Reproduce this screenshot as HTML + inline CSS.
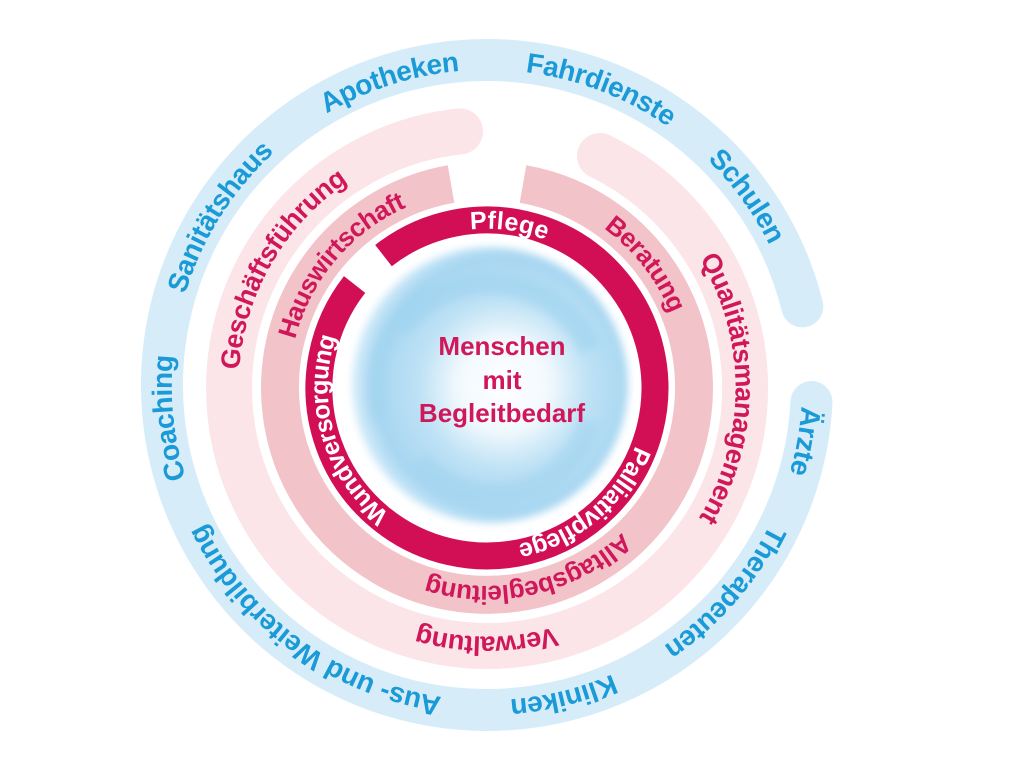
<!DOCTYPE html>
<html><head><meta charset="utf-8"><style>
html,body{margin:0;padding:0;background:#fff;}
svg{display:block;}
text{font-family:"Liberation Sans",sans-serif;font-weight:bold;}
</style></head><body>
<svg width="1024" height="769" viewBox="0 0 1024 769" xmlns="http://www.w3.org/2000/svg">
<defs>
<radialGradient id="sw" cx="0.55" cy="0.5" r="0.55">
<stop offset="0" stop-color="#ffffff"/>
<stop offset="0.3" stop-color="#f2f9fd"/>
<stop offset="0.55" stop-color="#bfe2f5"/>
<stop offset="0.85" stop-color="#a6d6f1"/>
<stop offset="1" stop-color="#d8eefa"/>
</radialGradient>
<filter id="bl"><feGaussianBlur stdDeviation="4"/></filter>
<path id="pb" d="M487,710 A325,325 0 1 1 487,60 A325,325 0 1 1 487,710 A325,325 0 1 1 487,60 A325,325 0 1 1 487,710"/>
<path id="p3" d="M487,646 A258,258 0 1 1 487,130 A258,258 0 1 1 487,646 A258,258 0 1 1 487,130 A258,258 0 1 1 487,646"/>
<path id="p2" d="M487,595 A207,207 0 1 1 487,181 A207,207 0 1 1 487,595 A207,207 0 1 1 487,181 A207,207 0 1 1 487,595"/>
<path id="p1" d="M487,556 A168,168 0 1 1 487,220 A168,168 0 1 1 487,556 A168,168 0 1 1 487,220 A168,168 0 1 1 487,556"/>
</defs>

<path d="M811.5,402 A325,325 0 1 1 802.3,306.4" fill="none" stroke="#d6ecf9" stroke-width="42" stroke-linecap="round"/>
<path d="M600,156 A258,258 0 1 1 460,131.4" fill="none" stroke="#fbe5e8" stroke-width="46" stroke-linecap="round"/>
<path d="M523,184 A207,207 0 1 1 451,184" fill="none" stroke="#f2c3c9" stroke-width="38"/>
<path d="M383.5,255.6 A168,168 0 1 1 354.6,284.5" fill="none" stroke="#d20f55" stroke-width="27"/>

<g filter="url(#bl)">
<circle cx="490" cy="385" r="138" fill="url(#sw)"/>
<path d="M400,330 A110,110 0 0 1 590,350" fill="none" stroke="#9fd3f0" stroke-width="22" opacity="0.6"/>
<path d="M590,420 A100,100 0 0 1 420,460" fill="none" stroke="#9fd3f0" stroke-width="22" opacity="0.5"/>
<path d="M380,420 A115,115 0 0 1 430,290" fill="none" stroke="#9fd3f0" stroke-width="20" opacity="0.5"/>
</g>

<g font-size="26" fill="#d0175a" text-anchor="middle">
<text x="502" y="355">Menschen</text>
<text x="502" y="389">mit</text>
<text x="502" y="422">Begleitbedarf</text>
</g>

<g font-size="28" fill="#1a9ad6" text-anchor="middle">
<text dy="0.35em"><textPath href="#pb" startOffset="2961">Apotheken</textPath></text>
<text dy="0.35em"><textPath href="#pb" startOffset="1140">Fahrdienste</textPath></text>
<text dy="0.35em"><textPath href="#pb" startOffset="1327">Schulen</textPath></text>
<text dy="0.35em"><textPath href="#pb" startOffset="2734">Sanitätshaus</textPath></text>
<text dy="0.35em"><textPath href="#pb" startOffset="2518">Coaching</textPath></text>
<text dy="0.35em"><textPath href="#pb" startOffset="2246">Aus- und Weiterbildung</textPath></text>
<text dy="0.35em"><textPath href="#pb" startOffset="1963">Kliniken</textPath></text>
<text dy="0.35em"><textPath href="#pb" startOffset="1764">Therapeuten</textPath></text>
<text dy="0.35em"><textPath href="#pb" startOffset="1588">Ärzte</textPath></text>
</g>

<g font-size="27" fill="#d0175a" text-anchor="middle">
<text dy="0.35em"><textPath href="#p3" startOffset="2161">Geschäftsführung</textPath></text>
<text dy="0.35em"><textPath href="#p3" startOffset="1216">Qualitätsmanagement</textPath></text>
<text dy="0.35em"><textPath href="#p3" startOffset="1621">Verwaltung</textPath></text>
</g>
<g font-size="26" fill="#d0175a" text-anchor="middle">
<text dy="0.35em"><textPath href="#p2" startOffset="1770">Hauswirtschaft</textPath></text>
<text dy="0.35em"><textPath href="#p2" startOffset="838">Beratung</textPath></text>
<text dy="0.35em"><textPath href="#p2" startOffset="1254">Alltagsbegleitung</textPath></text>
</g>

<g font-size="25" fill="#ffffff" text-anchor="middle">
<text dy="0.35em" letter-spacing="1"><textPath href="#p1" startOffset="551">Pflege</textPath></text>
<text dy="0.35em"><textPath href="#p1" startOffset="938">Palliativpflege</textPath></text>
<text dy="0.35em"><textPath href="#p1" startOffset="1270">Wundversorgung</textPath></text>
</g>
</svg>
</body></html>
